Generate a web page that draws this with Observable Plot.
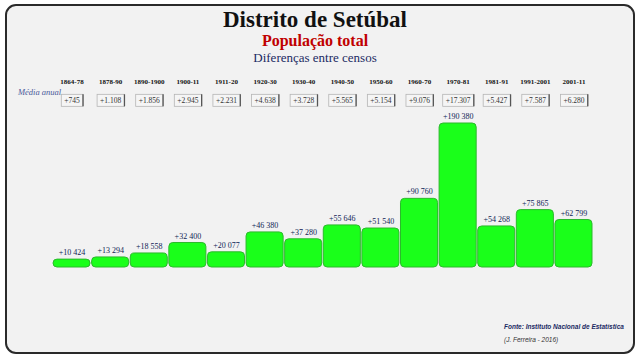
<!DOCTYPE html>
<html>
<head>
<meta charset="utf-8">
<script src="https://cdn.jsdelivr.net/npm/d3@7"></script>
<script src="https://cdn.jsdelivr.net/npm/@observablehq/plot@0.6"></script>
<style>
  html, body { margin: 0; padding: 0; background: #ffffff; }
  #page { position: relative; width: 640px; height: 360px; overflow: hidden; }
  #frame { position: absolute; left: 5px; top: 4px; width: 626px; height: 346px;
           border: 2px solid #2a2a2a; border-radius: 11px; background: #f2f2f2; }
  .t { position: absolute; left: 0; width: 630px; text-align: center; font-family: "Liberation Serif", serif; line-height: 1; }
  #title { top: 8px; font-size: 23px; font-weight: bold; color: #111; }
  #sub { top: 33px; font-size: 16px; font-weight: bold; color: #c00000; }
  #sub2 { top: 51px; font-size: 13px; color: #1b2a63; }
  #media { position: absolute; left: 18px; top: 87px; font-family: "Liberation Serif", serif; font-style: italic; font-size: 8.5px; color: #4a5a9a; }
  #fonte { position: absolute; left: 504px; top: 323px; font-family: "Liberation Sans", sans-serif; font-style: italic; font-weight: bold; font-size: 6.5px; color: #1b2a63; }
  #autor { position: absolute; left: 504px; top: 336px; font-family: "Liberation Sans", sans-serif; font-style: italic; font-size: 6.5px; color: #333; }
  #chart { position: absolute; left: 0; top: 70px; }
</style>
</head>
<body>
<div id="page">
  <div id="frame"></div>
  <div class="t" id="title">Distrito de Setúbal</div>
  <div class="t" id="sub">População total</div>
  <div class="t" id="sub2">Diferenças entre censos</div>
  <div id="media">Média anual</div>
  <div id="chart"></div>
  <div id="fonte">Fonte: Instituto Nacional de Estatística</div>
  <div id="autor">(J. Ferreira - 2016)</div>
</div>
<script>
const periods = ["1864-78","1878-90","1890-1900","1900-11","1911-20","1920-30","1930-40","1940-50","1950-60","1960-70","1970-81","1981-91","1991-2001","2001-11"];
const increases = [10424, 13294, 18558, 32400, 20077, 46380, 37280, 55646, 51540, 90760, 190380, 54268, 75865, 62799];
const annualMeans = [745, 1108, 1856, 2945, 2231, 4638, 3728, 5565, 5154, 9076, 17307, 5427, 7587, 6280];

const data = periods.map((p, i) => ({period: p, value: increases[i], mean: annualMeans[i]}));
const fmtSpace = v => "+" + d3.format(",")(v).replace(/,/g, " ");
const fmtDot = v => "+" + d3.format(",")(v).replace(/,/g, ".");

const chart = Plot.plot({
  width: 640,
  height: 220,
  marginLeft: 53,
  marginRight: 48,
  marginTop: 0,
  marginBottom: 23,
  x: {type: "band", domain: periods, paddingInner: 0.04, paddingOuter: 0, round: false, axis: null},
  y: {domain: [0, d3.max(increases)], insetTop: 53, axis: null},
  style: {background: "transparent", fontFamily: "Liberation Serif, serif"},
  marks: [
    Plot.barY(data, {x: "period", y: "value", fill: "#1aff1a", stroke: "#2cb82c", strokeWidth: 1, rx: 4}),
    Plot.text(data, {x: "period", y: "value", text: d => fmtSpace(d.value), dy: -7, fill: "#0f1d55", fontSize: 8}),
    Plot.text(data, {x: "period", text: "period", frameAnchor: "top", dy: 9, fill: "#111", fontSize: 7, fontWeight: "bold"}),
    Plot.text(data, {x: "period", text: d => fmtDot(d.mean), frameAnchor: "top", dy: 27, fill: "#333", fontSize: 7.5, ariaDescription: "media"})
  ]
});
document.getElementById("chart").append(chart);

// draw boxes behind the annual-mean labels (positioned with each text's own transform)
const svgNS = "http://www.w3.org/2000/svg";
chart.querySelectorAll('g[aria-description="media"] text').forEach(t => {
  const bb = t.getBBox();
  const g = t.parentNode;
  const tr = t.getAttribute("transform") || "";
  const x0 = bb.x - 3, y0 = bb.y - 1.5, w = bb.width + 6, h = bb.height + 3;
  const r = document.createElementNS(svgNS, "rect");
  r.setAttribute("transform", tr);
  r.setAttribute("x", x0);
  r.setAttribute("y", y0);
  r.setAttribute("width", w);
  r.setAttribute("height", h);
  r.setAttribute("fill", "#f5f5f5");
  r.setAttribute("stroke", "#b5b5b5");
  r.setAttribute("stroke-width", "0.8");
  g.insertBefore(r, t);
  const l = document.createElementNS(svgNS, "line");
  l.setAttribute("transform", tr);
  l.setAttribute("x1", x0 + w);
  l.setAttribute("x2", x0 + w);
  l.setAttribute("y1", y0);
  l.setAttribute("y2", y0 + h);
  l.setAttribute("stroke", "#555");
  l.setAttribute("stroke-width", "1.3");
  g.insertBefore(l, t);
});
</script>
</body>
</html>
